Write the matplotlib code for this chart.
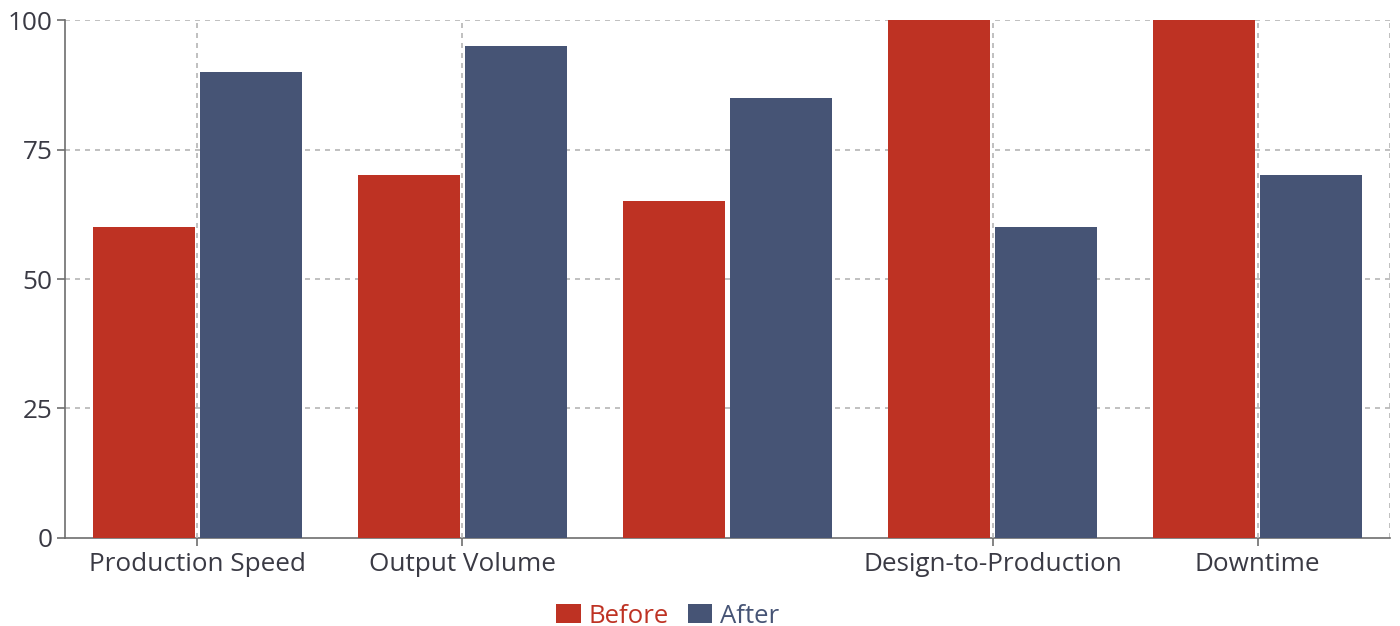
import matplotlib.pyplot as plt
import numpy as np

plt.rcParams["font.family"] = ["Open Sans", "DejaVu Sans"]

categories = ["Production Speed", "Output Volume", "", "Design-to-Production", "Downtime"]
before = [60, 70, 65, 100, 100]
after = [90, 95, 85, 60, 70]
y_ticks = [0, 25, 50, 75, 100]

RED = "#BE3223"
BLUE = "#465475"
GRID = "#b5b5b5"
AXIS = "#6e6e6e"
TEXT = "#3a3a44"

fig = plt.figure(figsize=(14, 6.26), dpi=100)
ax = fig.add_axes([0.0464, 0.1406, 0.9465, 0.8274])

x = np.arange(len(categories))
w = 0.385
off = 0.202
ax.bar(x - off, before, width=w, color=RED, label="Before", zorder=3)
ax.bar(x + off, after, width=w, color=BLUE, label="After", zorder=3)

ax.set_xlim(-0.5, len(categories) - 0.5)
ax.set_ylim(0, 100)

# only labelled categories get a tick and grid line
shown = [i for i, c in enumerate(categories) if c]
ax.set_xticks(shown)
ax.set_xticklabels([categories[i] for i in shown])
ax.set_yticks(y_ticks)

for yv in y_ticks[1:]:
    ax.axhline(yv, color=GRID, lw=1.2, ls=(0, (3, 3)), zorder=1)
for xv in shown:
    ax.axvline(xv, color=GRID, lw=1.2, ls=(0, (3, 3)), zorder=4)
ax.axvline(len(categories) - 0.5, color=GRID, lw=1.2, ls=(0, (3, 3)), zorder=1)

for s in ["top", "right"]:
    ax.spines[s].set_visible(False)
for s in ["left", "bottom"]:
    ax.spines[s].set_color(AXIS)
    ax.spines[s].set_linewidth(1.2)

ax.tick_params(axis="y", length=6, width=1.2, color=AXIS, labelsize=18.8,
               labelcolor=TEXT, pad=3)
ax.tick_params(axis="x", length=6, width=1.2, color=AXIS, labelsize=18.8,
               labelcolor=TEXT, pad=4)

leg = ax.legend(loc="upper center", bbox_to_anchor=(0.455, -0.092), ncol=2,
                frameon=False, fontsize=18.5, handlelength=0.95, handleheight=0.75,
                handletextpad=0.3, columnspacing=0.75, borderpad=0.2)
for t, c in zip(leg.get_texts(), [RED, BLUE]):
    t.set_color(c)

fig.savefig("out.png", dpi=100)
